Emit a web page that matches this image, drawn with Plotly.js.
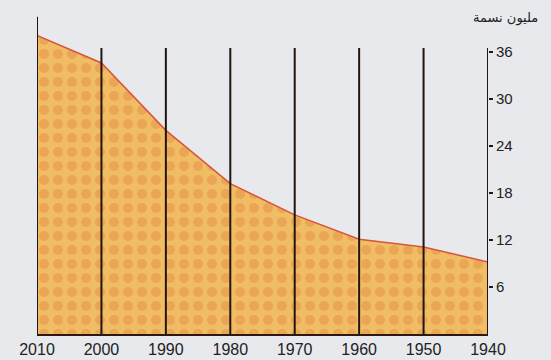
<!DOCTYPE html>
<html>
<head>
<meta charset="utf-8">
<script src="https://cdn.plot.ly/plotly-3.0.1.min.js"></script>
<style>html,body{margin:0;padding:0;background:#e8e9ec;}#chart{width:551px;height:360px;}</style>
</head>
<body>
<div id="chart"></div>
<script>
const years = [2010, 2000, 1990, 1980, 1970, 1960, 1950, 1940];
const population = [38.1, 34.6, 26.0, 19.2, 15.2, 12.1, 11.1, 9.2];
const lineTops = [40.5, 36.5, 36.5, 36.5, 36.5, 36.5, 36.5, 36.5];
const yTicks = [6, 12, 18, 24, 30, 36];
const xTickLabels = ['2010', '2000', '1990', '1980', '1970', '1960', '1950', '1940'];
const yTitle = 'مليون نسمة';

const vx = [], vy = [];
years.forEach((yr, i) => { vx.push(yr, yr, null); vy.push(0, lineTops[i], null); });

const traces = [
  {
    x: years, y: population, type: 'scatter', mode: 'lines',
    fill: 'tozeroy', fillcolor: '#efb65c',
    fillpattern: {shape: '.', fgcolor: '#eaa656', bgcolor: '#f0bc64', size: 14, solidity: 0.4},
    line: {color: '#d8553c', width: 1.5}, hoverinfo: 'skip'
  },
  {
    x: vx, y: vy, type: 'scatter', mode: 'lines',
    line: {color: '#231610', width: 2}, hoverinfo: 'skip'
  }
];

const layout = {
  width: 551, height: 360,
  margin: {l: 37, r: 63, t: 5, b: 26},
  paper_bgcolor: '#e8e9ec', plot_bgcolor: 'rgba(0,0,0,0)',
  showlegend: false,
  font: {family: 'Liberation Sans, Arial, sans-serif', color: '#222'},
  xaxis: {
    range: [2010, 1940], tickvals: years, ticktext: xTickLabels,
    showgrid: false, zeroline: false, showline: true, linecolor: '#2a1a10', linewidth: 2,
    ticks: '', ticklen: 0, tickfont: {size: 16, color: '#222'}
  },
  yaxis: {
    range: [0, 42], side: 'right', tickvals: yTicks, ticktext: yTicks.map(String),
    showgrid: false, zeroline: false, showline: false,
    ticks: 'outside', ticklen: 4, tickwidth: 1.5, tickcolor: '#231610',
    tickfont: {size: 15, color: '#222'}
  },
  annotations: [{
    text: yTitle, xref: 'paper', yref: 'paper', x: 1.115, y: 0.99,
    xanchor: 'right', yanchor: 'top', showarrow: false,
    font: {size: 13, color: '#222', family: 'DejaVu Sans, Noto Sans, sans-serif'}
  }]
};

Plotly.newPlot('chart', traces, layout, {displayModeBar: false, staticPlot: true});
</script>
</body>
</html>
